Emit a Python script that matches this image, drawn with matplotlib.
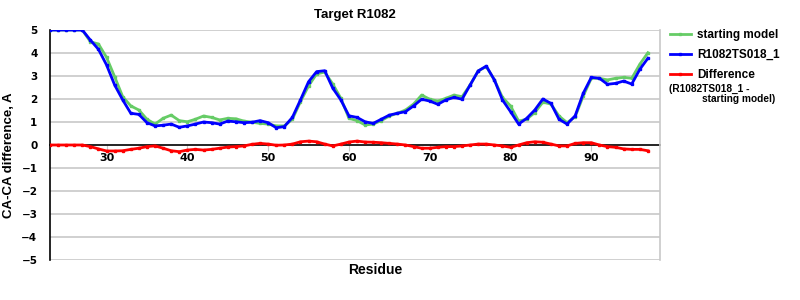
import matplotlib
matplotlib.use("Agg")
import matplotlib.pyplot as plt
import numpy as np

residues = list(range(23, 98))

starting_model = [5.0, 5.0, 5.0, 5.0, 5.0, 4.49, 4.39, 3.81, 2.97, 2.10,
                  1.70, 1.52, 1.12, 0.91, 1.16, 1.30, 1.06, 1.01, 1.12, 1.26,
                  1.20, 1.09, 1.16, 1.14, 1.04, 0.99, 0.94, 0.91, 0.83, 0.83,
                  1.12, 1.88, 2.57, 3.09, 3.17, 2.65, 2.03, 1.16, 1.06, 0.87,
                  0.91, 1.06, 1.26, 1.38, 1.52, 1.78, 2.17, 1.99, 1.91, 2.03,
                  2.17, 2.10, 2.61, 3.22, 3.41, 2.83, 2.07, 1.70, 1.04, 1.12,
                  1.41, 1.86, 1.78, 1.26, 0.97, 1.23, 2.13, 2.90, 2.90, 2.83,
                  2.90, 2.94, 2.90, 3.51, 4.01]

model = [5.0, 5.0, 5.0, 5.0, 5.0, 4.56, 4.16, 3.48, 2.61, 1.96,
         1.38, 1.33, 0.97, 0.83, 0.86, 0.91, 0.77, 0.83, 0.91, 1.00,
         0.97, 0.91, 1.04, 1.01, 0.97, 0.99, 1.06, 0.97, 0.75, 0.80,
         1.20, 1.96, 2.75, 3.19, 3.23, 2.47, 1.96, 1.27, 1.20, 1.01,
         0.94, 1.12, 1.30, 1.38, 1.45, 1.70, 1.99, 1.91, 1.77, 1.96,
         2.07, 1.99, 2.61, 3.22, 3.43, 2.83, 1.96, 1.45, 0.91, 1.16,
         1.52, 2.00, 1.81, 1.12, 0.91, 1.27, 2.25, 2.94, 2.90, 2.64,
         2.68, 2.78, 2.65, 3.29, 3.77]

difference = [0.0, 0.0, 0.0, 0.0, 0.0, -0.07, -0.17, -0.26, -0.26, -0.25,
              -0.19, -0.14, -0.07, -0.04, -0.14, -0.25, -0.29, -0.22, -0.19, -0.22,
              -0.19, -0.14, -0.09, -0.07, -0.04, 0.03, 0.07, 0.04, -0.01, 0.0,
              0.04, 0.14, 0.17, 0.14, 0.04, -0.04, 0.04, 0.13, 0.17, 0.13,
              0.12, 0.10, 0.07, 0.04, 0.0, -0.07, -0.14, -0.14, -0.10, -0.07,
              -0.07, -0.04, 0.0, 0.04, 0.04, 0.0, -0.04, -0.10, 0.0, 0.10,
              0.14, 0.12, 0.04, -0.04, -0.04, 0.07, 0.10, 0.10, 0.0, -0.07,
              -0.10, -0.17, -0.19, -0.19, -0.25]

x_ticks = [30, 40, 50, 60, 70, 80, 90]
y_ticks = [5, 4, 3, 2, 1, 0, -1, -2, -3, -4, -5]

title = "Target R1082"
x_label = "Residue"
y_label = "CA-CA difference, A"
labels = ["starting model", "R1082TS018_1", "Difference"]
note_line1 = "(R1082TS018_1 -"
note_line2 = "starting model)"

GREEN = "#66cc66"
BLUE = "#0000ff"
RED = "#ff0000"
LAB = "Liberation Sans"
TICKF = "DejaVu Sans"

fig = plt.figure(figsize=(8, 3), dpi=100)
ax = fig.add_axes([50/800, 40/300, 610/800, 230/300])

ax.set_xlim(23, 98.5)
ax.set_ylim(-5, 5)

for yv in y_ticks:
    if yv != 0:
        ax.axhline(yv, color="#c8c8c8", lw=1.2, zorder=0)

ax.plot(residues, starting_model, color=GREEN, lw=2, marker="s", ms=2, zorder=3, label=labels[0])
ax.plot(residues, model, color=BLUE, lw=2, marker="s", ms=2, zorder=4, label=labels[1])
ax.plot(residues, difference, color=RED, lw=2, marker="s", ms=2, zorder=5, label=labels[2])

ax.spines["top"].set_visible(False)
ax.spines["right"].set_color("#c8c8c8")
ax.spines["right"].set_linewidth(1.2)
ax.spines["left"].set_color("black")
ax.spines["left"].set_linewidth(1.2)
ax.spines["bottom"].set_position(("data", 0))
ax.spines["bottom"].set_color("black")
ax.spines["bottom"].set_linewidth(1.2)
ax.spines["bottom"].set_zorder(2)

ax.set_xticks(x_ticks)
ax.set_xticklabels([str(t) for t in x_ticks], fontfamily=TICKF, fontweight="bold", fontsize=8)
ax.tick_params(axis="x", length=4, color="#c8c8c8", pad=2)
ax.set_yticks(y_ticks)
ax.set_yticklabels([("\u2212" + str(-t)) if t < 0 else str(t) for t in y_ticks],
                   fontfamily=TICKF, fontweight="bold", fontsize=7.5)
ax.tick_params(axis="y", length=0, pad=9)

fig.text(355/800, 1 - 15/300, title, ha="center", va="center",
         fontfamily=LAB, fontweight="bold", fontsize=9.5)
fig.text(375/800, 1 - 270/300, x_label, ha="center", va="center",
         fontfamily=LAB, fontweight="bold", fontsize=10)
fig.text(9/800, 145/300, y_label, ha="center", va="center", rotation=90,
         fontfamily=LAB, fontweight="bold", fontsize=9.5)

leg = fig.legend(loc="upper left", bbox_to_anchor=(665/800, 1 - 24/300),
                 frameon=False, prop={"family": LAB, "weight": "bold", "size": 8.5},
                 handlelength=1.8, handletextpad=0.5, labelspacing=0.7, borderaxespad=0)
for ln in leg.get_lines():
    ln.set_linewidth(2)
fig.text(669/800, 1 - 88.5/300, note_line1, ha="left", va="center",
         fontfamily=LAB, fontweight="bold", fontsize=7.3)
fig.text(702/800, 1 - 98.5/300, note_line2, ha="left", va="center",
         fontfamily=LAB, fontweight="bold", fontsize=7.3)

fig.savefig("out.png", dpi=100)
